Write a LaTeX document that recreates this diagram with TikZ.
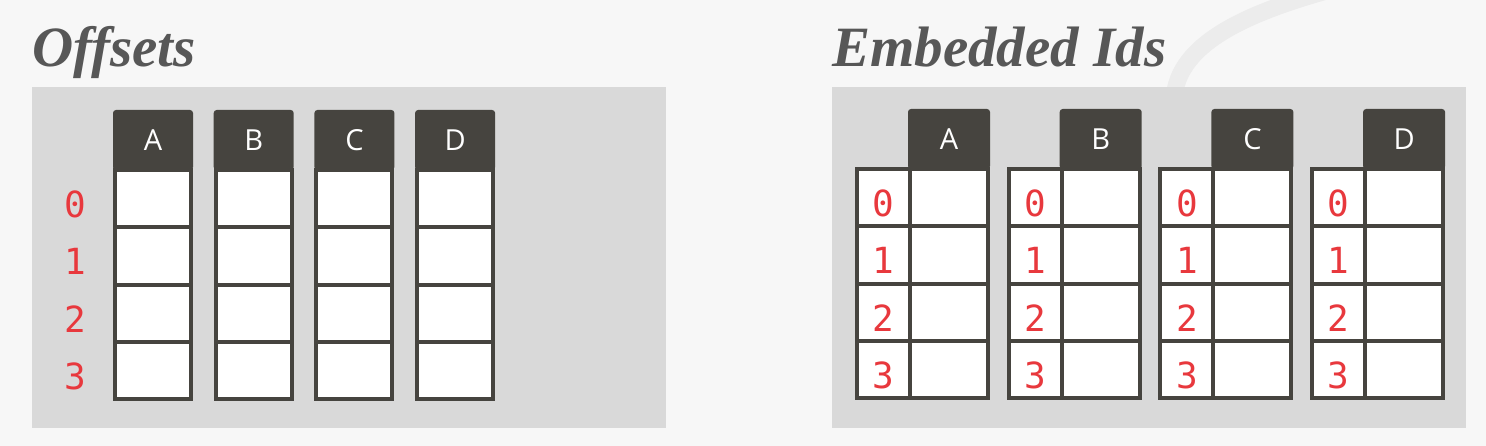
\documentclass[tikz,border=0pt]{standalone}
\usepackage{fontspec}
\setmainfont{Liberation Serif}
\newfontfamily\headfont{Open Sans}
\newfontfamily\idfont{DejaVu Sans Mono}
\usetikzlibrary{positioning}
\definecolor{slidebg}{HTML}{F7F7F7}
\definecolor{swooshgray}{HTML}{ECECEC}
\definecolor{panelgray}{HTML}{D9D9D9}
\definecolor{celldark}{HTML}{46443F}
\definecolor{idred}{HTML}{E8383D}
\definecolor{titlegray}{HTML}{575757}
\newcommand\cellh{57.3pt}
\newcommand\offw{76pt}
\newcommand\valw{78pt}
\newcommand\idw{53pt}
\newcommand\headh{60pt}
\newcommand\offdx{100.7}
\newcommand\embdx{151.7}

\tikzset{
  panel/.style={fill=panelgray},
  swoosh/.style={draw=swooshgray, line width=17pt},
  title/.style={anchor=base west, inner sep=0pt, text=titlegray,
    font=\fontsize{57}{60}\selectfont\bfseries\itshape},
  head/.style={fill=celldark, text=white, minimum width=\offw+4pt,
    minimum height=\headh, inner sep=0pt, outer sep=0pt,
    rounded corners=3pt, font=\headfont\fontsize{29}{31}\selectfont},
  cell/.style={draw=celldark, fill=white, line width=4pt,
    minimum width=\offw, minimum height=\cellh, inner sep=0pt, outer sep=0pt},
  digit/.style={text=idred, text height=38pt, text depth=0pt,
    font=\idfont\fontsize{36}{38}\selectfont},
  idcell/.style={cell, digit, minimum width=\idw},
  idlabel/.style={digit, inner sep=0pt, outer sep=0pt},
}

\begin{document}
\begin{tikzpicture}[x=1pt, y=-1pt]
  \useasboundingbox[fill=slidebg] (0,0) rectangle (1486,446);
  % background swoosh
  \draw[swoosh] (1176,120) .. controls (1160,50) and (1240,15) .. (1330,-10);

  % panels and titles
  \fill[panel] (32,87) rectangle (666,428);
  \fill[panel] (832,87) rectangle (1466,428);
  \node[title] (toff) at (32,67) {Offsets};
  \node[title] (temb) at (832,67) {Embedded Ids};

  % offsets: one column per attribute
  \foreach \c [count=\i from 0] in {A,B,C,D} {
    \node[head] (h\c) at (153+\offdx*\i,140) {\c};
    \node[cell, below=0pt of h\c] (\c0) {};
    \foreach \r [count=\j from 0] in {1,2,3}
      \node[cell, below=0pt of \c\j] (\c\r) {};
  }
  % offsets: shared row labels
  \foreach \r in {0,...,3}
    \node[idlabel, left=29pt of A\r] (l\r) {\r};

  % embedded ids: id column next to each value column
  \foreach \c [count=\i from 0] in {A,B,C,D} {
    \node[head, minimum width=\valw+4pt] (eh\c) at (949+\embdx*\i,139) {\c};
    \node[cell, minimum width=\valw, below=0pt of eh\c] (e\c0) {};
    \node[idcell, left=0pt of e\c0] (i\c0) {0};
    \foreach \r [count=\j from 0] in {1,2,3} {
      \node[cell, minimum width=\valw, below=0pt of e\c\j] (e\c\r) {};
      \node[idcell, left=0pt of e\c\r] (i\c\r) {\r};
    }
  }
\end{tikzpicture}
\end{document}
